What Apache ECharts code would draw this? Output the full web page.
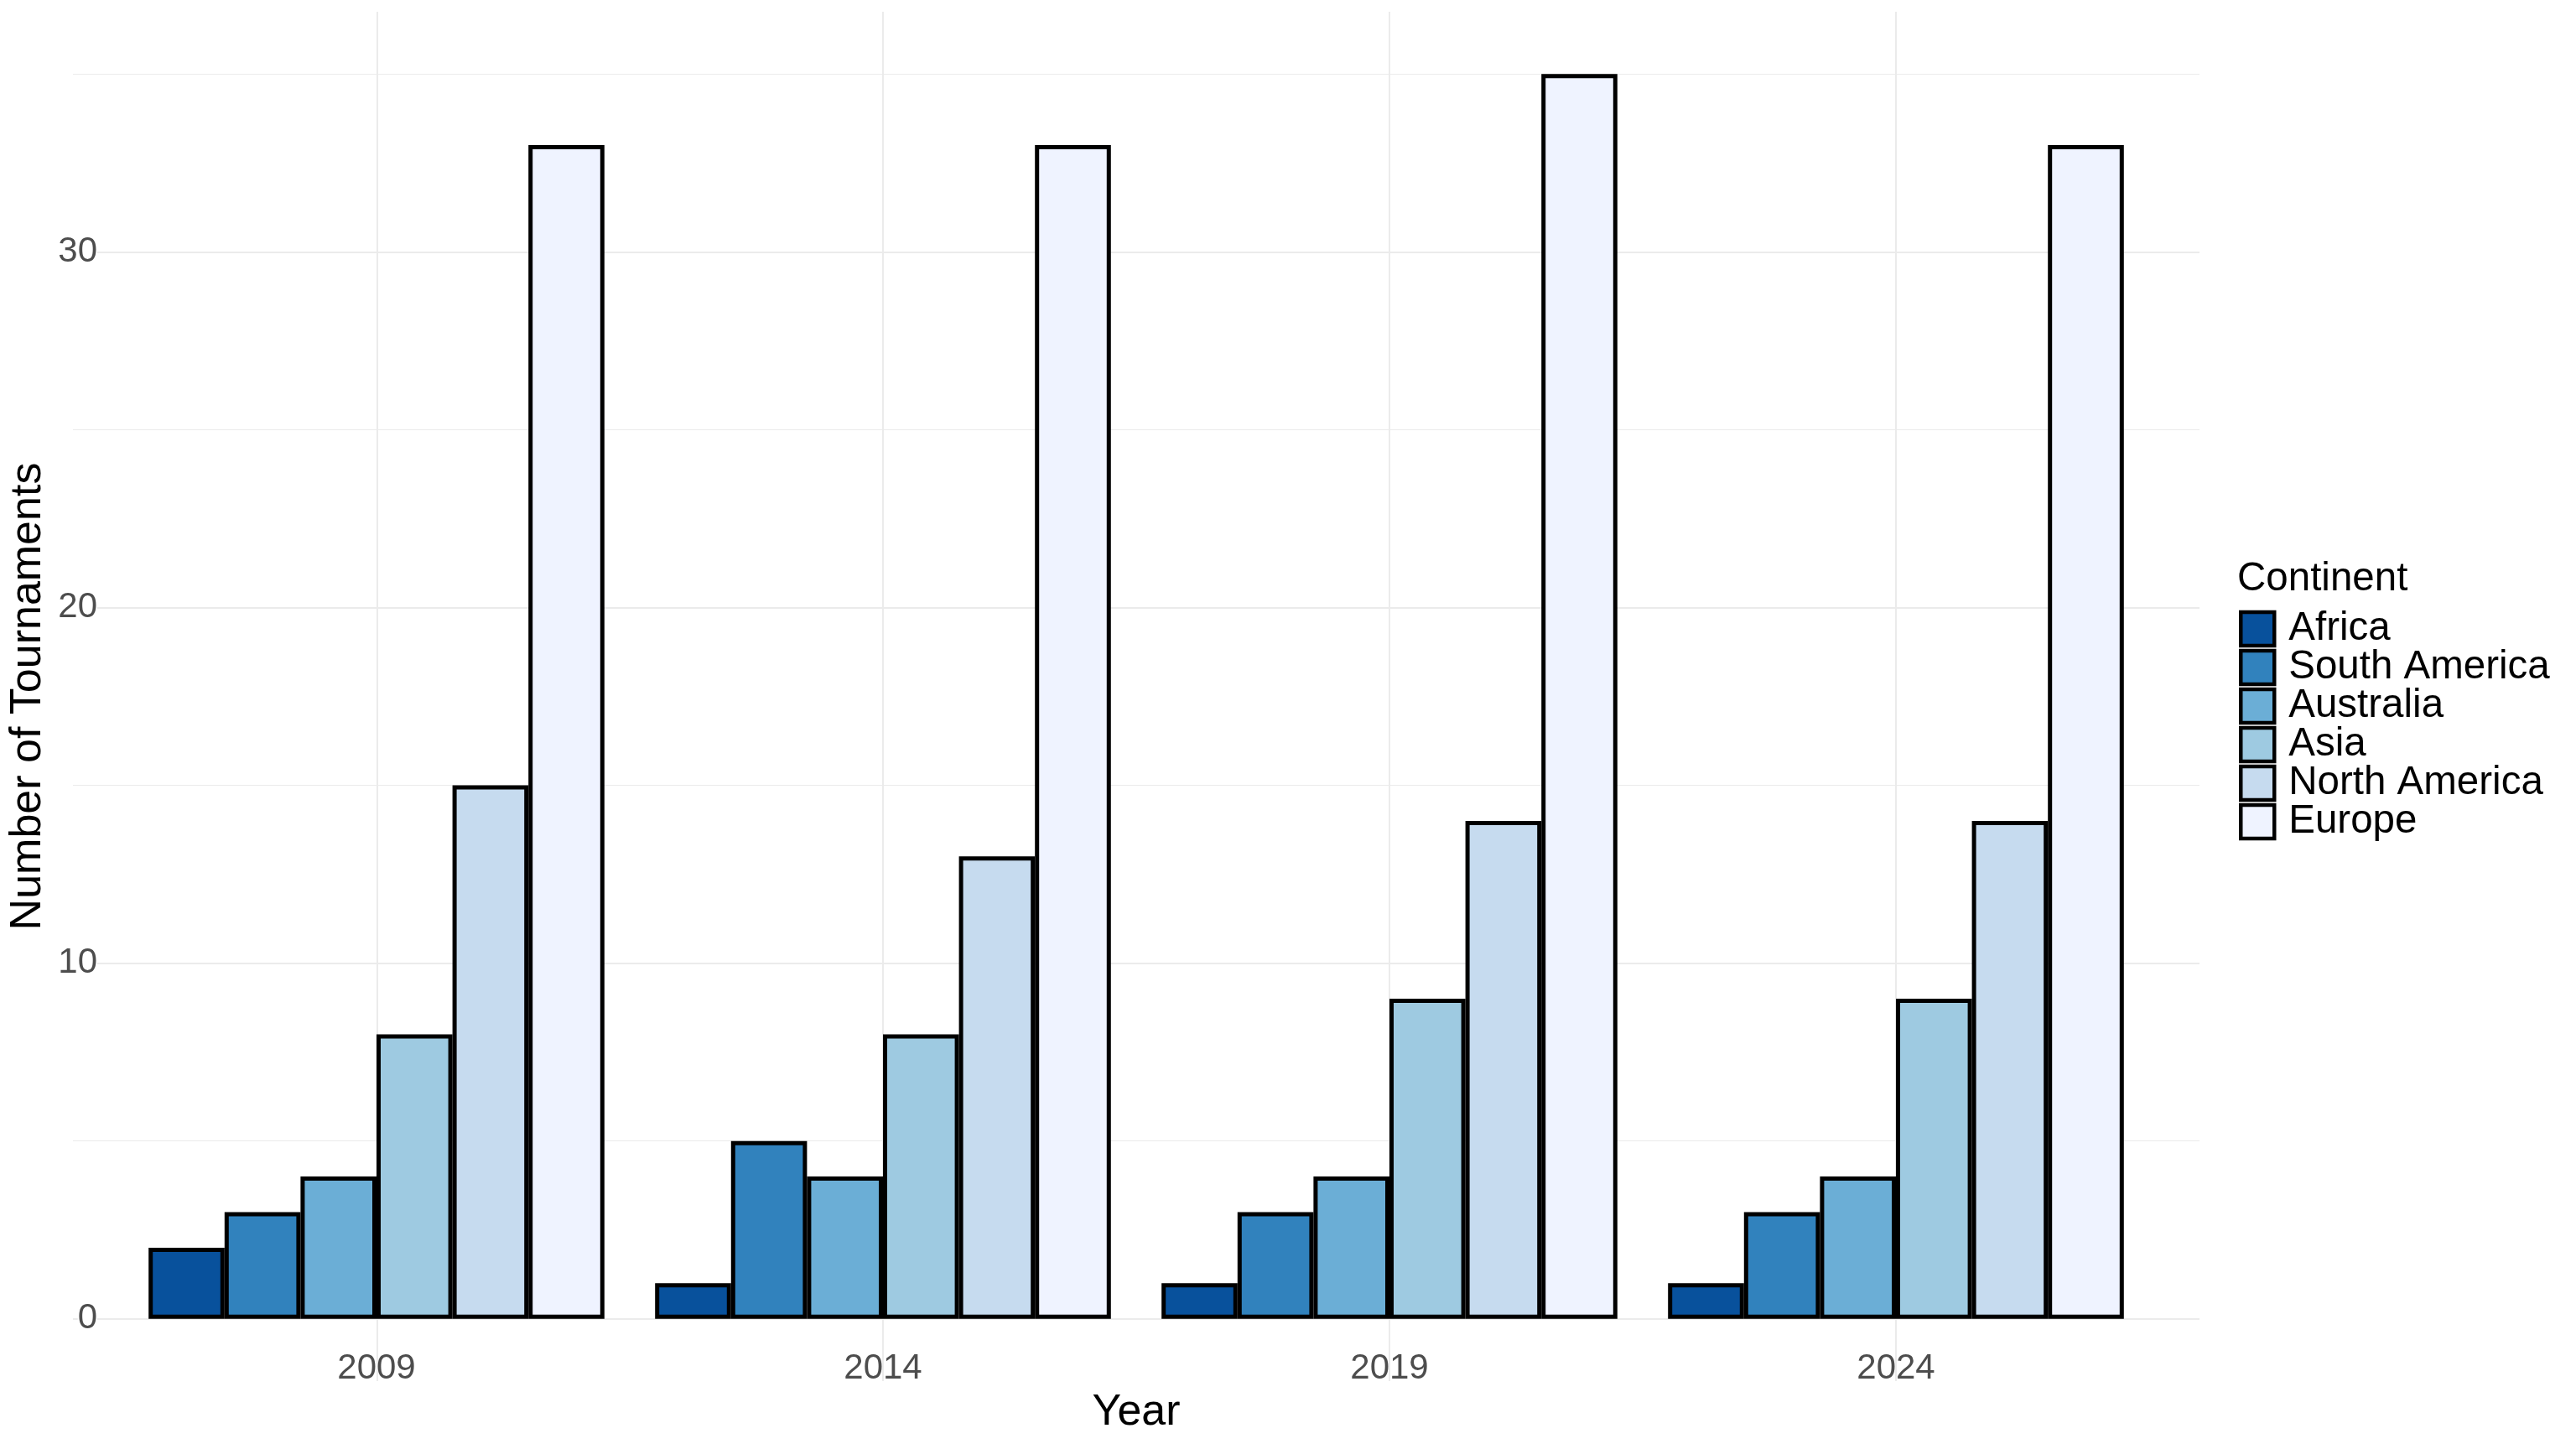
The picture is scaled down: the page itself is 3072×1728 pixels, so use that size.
<!DOCTYPE html>
<html>
<head>
<meta charset="utf-8">
<script src="https://cdn.jsdelivr.net/npm/echarts@6/dist/echarts.min.js"></script>
<style>
html,body{margin:0;padding:0;background:#ffffff;}
#chart{width:3072px;height:1728px;}
</style>
</head>
<body>
<div id="chart"></div>
<script>
// ---- data ----
const years = ['2009', '2014', '2019', '2024'];
const continents = ['Africa', 'South America', 'Australia', 'Asia', 'North America', 'Europe'];
const africa = [2, 1, 1, 1];
const southAmerica = [3, 5, 3, 3];
const australia = [4, 4, 4, 4];
const asia = [8, 8, 9, 9];
const northAmerica = [15, 13, 14, 14];
const europe = [33, 33, 35, 33];
const seriesValues = [africa, southAmerica, australia, asia, northAmerica, europe];
const palette = ['#08519C', '#3182BD', '#6BAED6', '#9ECAE1', '#C6DBEF', '#EFF3FF'];
const xTitle = 'Year';
const yTitle = 'Number of Tournaments';
const legendTitle = 'Continent';

// ---- layout / style ----
const FONT = '"Liberation Sans", Arial, sans-serif';
const Y_MIN = -1.75, Y_MAX = 36.75;
const GRID_TOP = 14, GRID_H = 1633;
const gridCol = '#EBEBEB';

const chart = echarts.init(document.getElementById('chart'), null, {renderer: 'canvas'});

const series = continents.map((name, i) => ({
  name: name,
  type: 'bar',
  xAxisIndex: 1,
  yAxisIndex: 2,
  data: seriesValues[i],
  barGap: '0%',
  barCategoryGap: '10%',
  itemStyle: { color: palette[i], borderColor: '#000000', borderWidth: 5 },
  emphasis: { disabled: true },
  z: 2
}));

const option = {
  animation: false,
  backgroundColor: '#ffffff',
  textStyle: { fontFamily: FONT },
  title: {
    text: legendTitle,
    left: 2668,
    top: 667,
    padding: 0,
    textStyle: { fontFamily: FONT, fontSize: 47.5, fontWeight: 'normal', color: '#000000' }
  },
  legend: {
    orient: 'vertical',
    left: 2670,
    top: 726,
    padding: 0,
    itemGap: -2,
    itemWidth: 40,
    itemHeight: 40,
    icon: 'rect',
    selectedMode: false,
    data: continents,
    itemStyle: { borderColor: '#000000', borderWidth: 4.5 },
    textStyle: { fontFamily: FONT, fontSize: 47.5, color: '#000000', padding: [0, 0, 0, 12] }
  },
  grid: [
    { left: 87, top: GRID_TOP, width: 2536, height: GRID_H, outerBoundsMode: 'none', containLabel: false },
    { left: 147, top: GRID_TOP, width: 2416, height: GRID_H, outerBoundsMode: 'none', containLabel: false }
  ],
  xAxis: [
    {
      gridIndex: 0, type: 'value', min: 0.4, max: 4.6, splitNumber: 5,
      axisLine: { show: false }, axisTick: { show: false }, axisLabel: { show: false },
      splitLine: { show: true, showMinLine: false, showMaxLine: false, lineStyle: { color: gridCol, width: 2 } },
      z: 0
    },
    {
      gridIndex: 1, type: 'category', data: years,
      axisLine: { show: false }, axisTick: { show: false }, splitLine: { show: false },
      axisLabel: { fontFamily: FONT, fontSize: 42, color: '#4D4D4D', margin: -15, verticalAlign: 'middle' },
      name: xTitle, nameLocation: 'middle', nameGap: 38, nameMoveOverlap: false,
      nameTextStyle: { fontFamily: FONT, fontSize: 52, color: '#000000', verticalAlign: 'middle', align: 'center' },
      z: 0
    }
  ],
  yAxis: [
    {
      gridIndex: 0, type: 'value', min: Y_MIN, max: Y_MAX, splitNumber: 4, position: 'left',
      axisLine: { show: false }, axisTick: { show: false },
      axisLabel: {
        fontFamily: FONT, fontSize: 42, color: '#4D4D4D', margin: -29, align: 'right',
        showMinLabel: false, showMaxLabel: false, backgroundColor: '#ffffff', padding: 0,
        formatter: function (v) { return Math.abs(v % 10) < 1e-9 ? String(Math.round(v)) : ''; }
      },
      splitLine: { show: true, showMinLine: false, showMaxLine: false, lineStyle: { color: gridCol, width: 2 } },
      name: yTitle, nameLocation: 'middle', nameGap: 53, nameRotate: 90, nameMoveOverlap: false,
      nameTextStyle: { fontFamily: FONT, fontSize: 52, color: '#000000', verticalAlign: 'middle', align: 'center' },
      z: 1
    },
    {
      gridIndex: 0, type: 'value', min: Y_MIN, max: Y_MAX, splitNumber: 8, position: 'left',
      axisLine: { show: false }, axisTick: { show: false }, axisLabel: { show: false },
      splitLine: { show: true, showMinLine: false, showMaxLine: false, lineStyle: { color: gridCol, width: 1 } },
      z: 0
    },
    {
      gridIndex: 1, type: 'value', min: Y_MIN, max: Y_MAX, show: false,
      splitLine: { show: false }
    }
  ],
  series: series
};

chart.setOption(option);
</script>
</body>
</html>
